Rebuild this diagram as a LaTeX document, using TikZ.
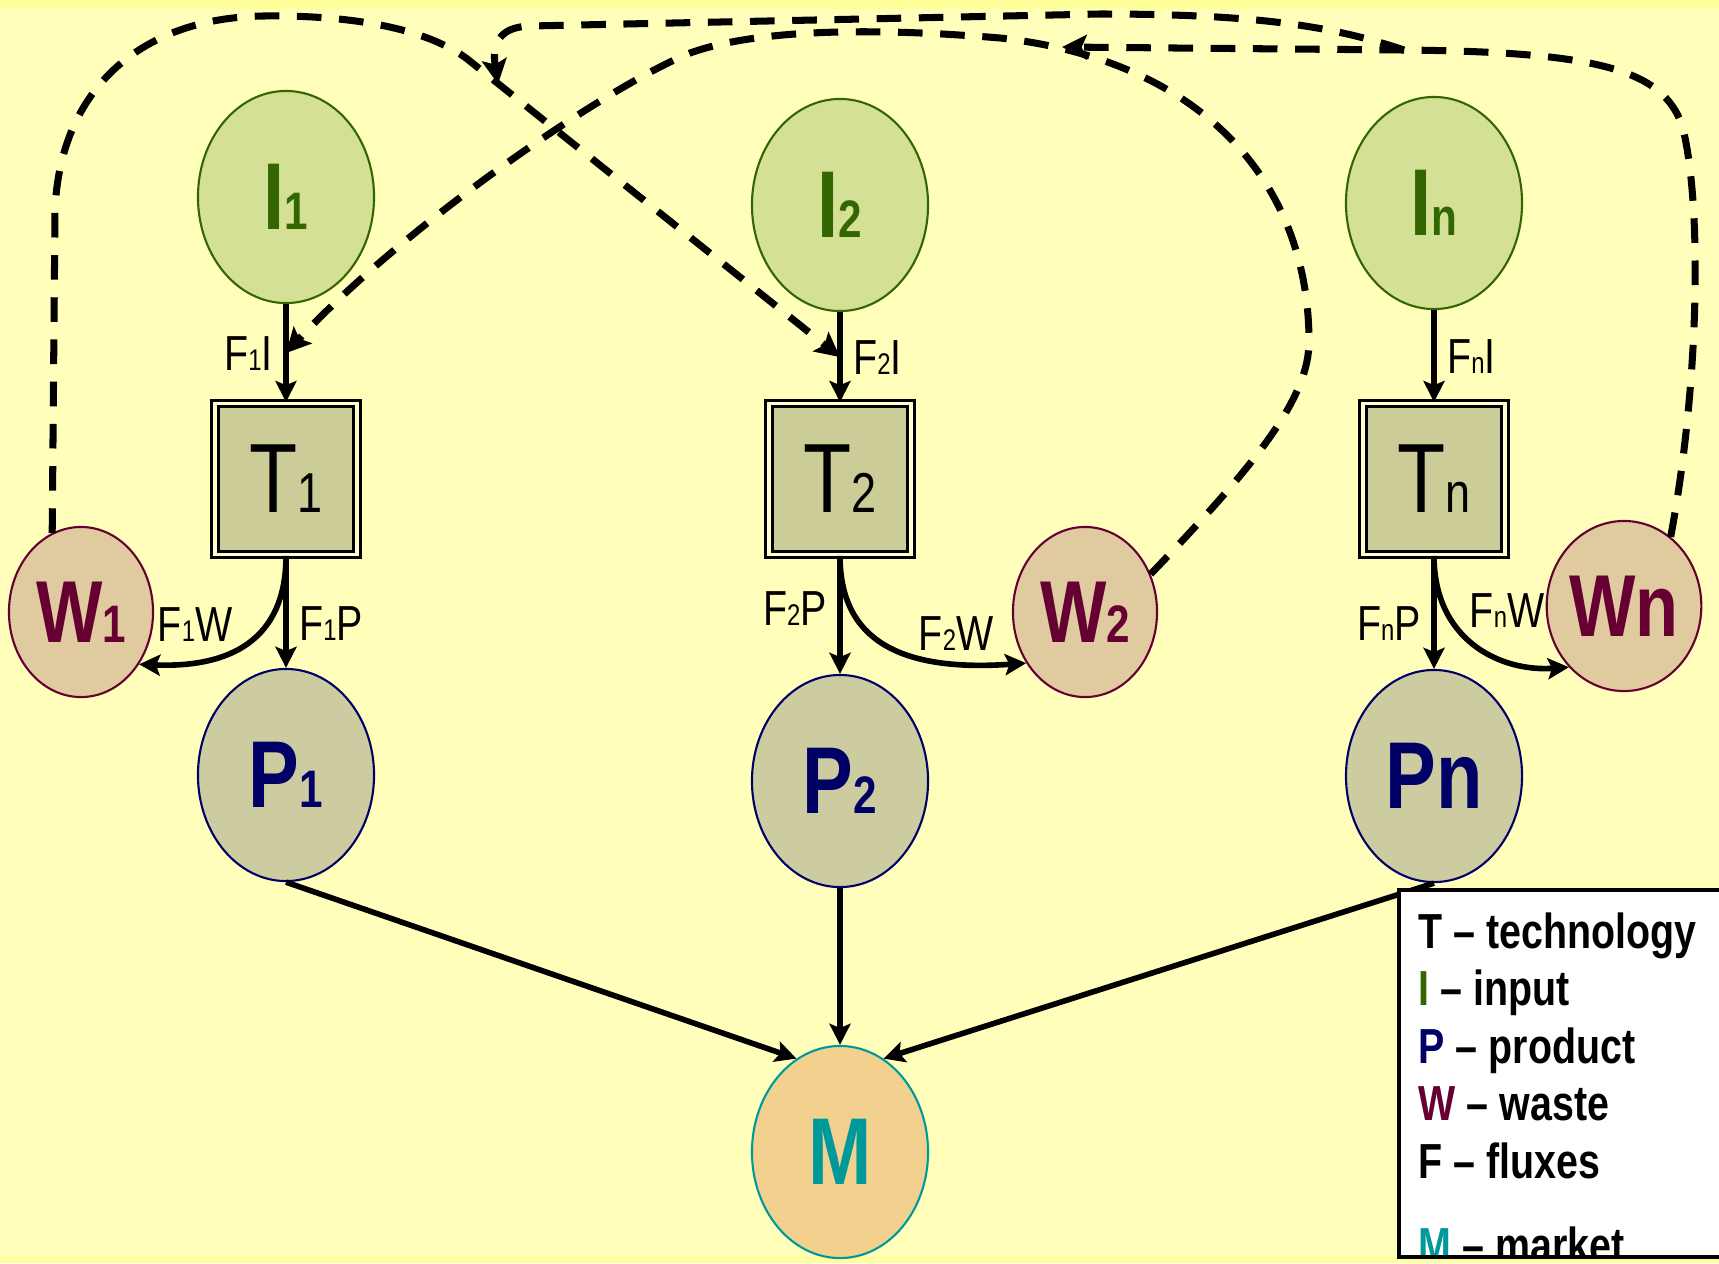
\documentclass[tikz,border=0pt]{standalone}
\usepackage{fontspec}
\setmainfont{Liberation Sans}
\newfontfamily\narrow[FakeStretch=0.8]{Liberation Sans}
\usetikzlibrary{arrows.meta}
\usetikzlibrary{shapes.geometric}
\usetikzlibrary{calc}
\definecolor{bg}{HTML}{FFFFBB}
\definecolor{bt}{HTML}{FFFF99}
\definecolor{ig}{HTML}{336600}
\definecolor{il}{HTML}{D4E096}
\definecolor{tl}{HTML}{CCCC99}
\definecolor{tg}{HTML}{FFFFCC}
\definecolor{wr}{HTML}{660033}
\definecolor{wl}{HTML}{E0CBA0}
\definecolor{pb}{HTML}{000066}
\definecolor{pl}{HTML}{CCCCA0}
\definecolor{mt}{HTML}{009999}
\definecolor{ml}{HTML}{F2D18F}
\newcommand{\ndig}[1]{{\fontsize{15}{15}\selectfont #1}}
\newcommand{\tdig}[1]{{\fontsize{16}{16}\selectfont #1}}
\newcommand{\fdig}[1]{{\fontsize{8.5}{8.5}\selectfont #1}}
\tikzset{
  blob/.style={ellipse, line width=0.6pt, minimum width=1.76cm, minimum height=2.12cm, inner sep=0pt,
    font=\narrow\bfseries\fontsize{27}{27}\selectfont},
  inp/.style={blob, draw=ig, fill=il, text=ig},
  prod/.style={blob, draw=pb, fill=pl, text=pb},
  mkt/.style={blob, draw=mt, fill=ml, text=mt},
  waste/.style={blob, draw=wr, fill=wl, text=wr, minimum width=1.44cm, minimum height=1.70cm,
    font=\narrow\bfseries\fontsize{25}{25}\selectfont},
  tech/.style={rectangle, draw=black, line width=0.8pt, double=tg, double distance=1.05pt, fill=tl,
    minimum width=1.42cm, minimum height=1.51cm, font=\narrow\fontsize{28}{28}\selectfont},
  flow/.style={line width=1.6pt, -{Stealth[length=6pt, width=6pt, inset=1.2pt]}},
  recyc/.style={line width=2pt, dash pattern=on 7pt off 5pt, -{Stealth[length=7pt, width=7pt, inset=1.4pt]}},
  flab/.style={font=\narrow\fontsize{14}{14}\selectfont, inner sep=3pt},
  legtxt/.style={anchor=base west, inner sep=0pt, font=\narrow\bfseries\fontsize{14}{14}\selectfont}
}
\begin{document}
\begin{tikzpicture}[x=0.01cm, y=-0.01cm]

  \useasboundingbox (0,0) rectangle (1719,1263);
  \clip (0,0) rectangle (1719,1263);
  \fill[bg] (0,0) rectangle (1719,1263);
  \fill[bt] (0,0) rectangle (1719,9);
  \fill[bt] (0,1257) rectangle (1719,1263);

  \node[inp] (I1) at (286,197) {I\ndig{1}};
  \node[inp] (I2) at (840,205) {I\ndig{2}};
  \node[inp] (In) at (1434,203) {I\ndig{n}};
  \node[tech] (T1) at (286,479) {T\tdig{1}};
  \node[tech] (T2) at (840,479) {T\tdig{2}};
  \node[tech] (Tn) at (1434,479) {T\tdig{n}};
  \node[waste] (W1) at (81,612) {W\ndig{1}};
  \node[waste] (W2) at (1085,612) {W\ndig{2}};
  \node[waste] (Wn) at (1624,606) {Wn};
  \node[prod] (P1) at (286,775) {P\ndig{1}};
  \node[prod] (P2) at (840,781) {P\ndig{2}};
  \node[prod] (Pn) at (1434,776) {Pn};
  \node[mkt] (M) at (840,1152) {M};

  \draw[flow] (I1) -- node[flab, left] (f1i) {F\fdig{1}I} (T1);
  \draw[flow] (I2) -- node[flab, right] (f2i) {F\fdig{2}I} (T2);
  \draw[flow] (In) -- node[flab, right] (fni) {F\fdig{n}I} (Tn);
  \draw[flow] (T1) -- node[flab, right, pos=0.6] (f1p) {F\fdig{1}P} (P1);
  \draw[flow] (T2) -- node[flab, left, pos=0.45] (f2p) {F\fdig{2}P} (P2);
  \draw[flow] (Tn) -- node[flab, left, pos=0.6] (fnp) {F\fdig{n}P} (Pn);

  \draw[flow] (T1.south) .. controls (286,640) and (230,668) .. (W1.-42);
  \draw[flow] (T2.south) .. controls (840,640) and (900,672) .. (W2.-139);
  \draw[flow] (Tn.south) .. controls (1434,640) and (1500,672) .. (Wn.-132);
  \node[flab] (f1w) at (195,625) {F\fdig{1}W};
  \node[flab] (f2w) at (956,634) {F\fdig{2}W};
  \node[flab] (fnw) at (1507,611) {F\fdig{n}W};

  \draw[flow] (P1.south) -- (M.115);
  \draw[flow] (P2) -- (M);
  \draw[flow] (Pn.south) -- (M.65);

  \coordinate (f1in) at ($(I1.south)!0.5!(T1.north)$);
  \coordinate (f2in) at ($(I2.south)!0.5!(T2.north)$);
  \coordinate (wsplit) at (1404,50);
  \coordinate (wtip2) at (1062,47);
  \coordinate (wtip1) at (498,84);

  \draw[recyc] (W1.110) -- (55,210) .. controls (60,90) and (140,18) .. (263,16)
    .. controls (340,15) and (420,25) .. (466,58) -- (f2in);
  \draw[recyc] (W2.30) .. controls (1250,470) and (1310,400) .. (1309,340)
    .. controls (1308,180) and (1200,60) .. (1000,38)
    .. controls (880,28) and (760,28) .. (690,53)
    .. controls (600,90) and (400,230) .. (f1in);
  \draw[recyc] (Wn.56) .. controls (1700,380) and (1702,200) .. (1682,125)
    .. controls (1662,70) and (1600,52) .. (wsplit) -- (wtip2);
  \draw[recyc] (wsplit) .. controls (1330,25) and (1250,14) .. (1100,14) -- (530,26)
    .. controls (498,27) and (492,45) .. (wtip1);

  \fill[white] (1399,890) rectangle (1740,1257);
  \foreach \k/\c/\t [count=\i from 0] in {T/black/technology, I/ig/input, P/pb/product, W/wr/waste, F/black/fluxes}
    \node[legtxt] (leg\i) at (1418,{948+57.5*\i}) {\textcolor{\c}{\k} – \t};
  \begin{scope}
    \clip (1399,890) rectangle (1740,1257);
    \node[legtxt] (leg5) at (1418,1262) {\textcolor{mt}{M} – market};
  \end{scope}
  \draw[line width=0.9pt] (1399,890) rectangle (1740,1257);

\end{tikzpicture}
\end{document}
